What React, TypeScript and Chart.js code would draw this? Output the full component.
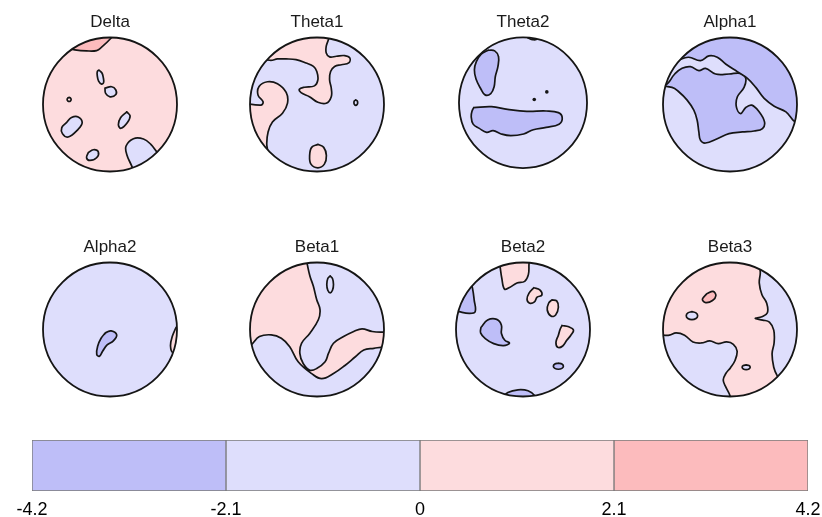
import React, { useEffect, useRef } from 'react';
import { Chart, registerables } from 'chart.js';

Chart.register(...registerables);

// colour bins: 0 = [-4.2,-2.1], 1 = [-2.1,0], 2 = [0,2.1], 3 = [2.1,4.2]
const BIN_COLORS = ['#bebef8', '#dedefc', '#fddcde', '#fcbbbd'];
const CB_EDGES = [-4.2, -2.1, 0, 2.1, 4.2];
const CB_LABELS = ['-4.2', '-2.1', '0', '2.1', '4.2'];

const HEAD_NAMES = ['Delta', 'Theta1', 'Theta2', 'Alpha1', 'Alpha2', 'Beta1', 'Beta2', 'Beta3'];
const HEAD_BASE_BIN = [2, 1, 1, 1, 1, 1, 1, 2];

type Region = [number, number[][]];

// contour regions in head coordinates (unit circle, y up)
const DELTA_REGIONS: Region[] = [
  [3, [[-0.7, 0.85], [-0.525, 0.815], [-0.35, 0.8], [-0.2, 0.805], [-0.125, 0.855], [0.01, 0.985], [0.1, 1.1], [-0.4, 1.15]]],
  [1, [[-0.165, 0.515], [-0.12, 0.47], [-0.1, 0.4], [-0.095, 0.33], [-0.125, 0.305], [-0.17, 0.35], [-0.19, 0.43], [-0.19, 0.49]]],
  [1, [[-0.075, 0.245], [0.025, 0.265], [0.085, 0.22], [0.088, 0.15], [0, 0.115], [-0.065, 0.165]]],
  [2, [[-0.61, 0.105], [-0.589, 0.096], [-0.58, 0.075], [-0.589, 0.054], [-0.61, 0.045], [-0.631, 0.054], [-0.64, 0.075], [-0.631, 0.096]]],
  [1, [[0.25, -0.11], [0.3, -0.17], [0.26, -0.27], [0.165, -0.355], [0.125, -0.3], [0.16, -0.195]]],
  [1, [[-0.65, -0.27], [-0.575, -0.195], [-0.475, -0.185], [-0.415, -0.27], [-0.475, -0.37], [-0.625, -0.485], [-0.71, -0.435], [-0.72, -0.345]]],
  [1, [[-0.325, -0.72], [-0.25, -0.675], [-0.175, -0.705], [-0.2, -0.795], [-0.3, -0.835], [-0.35, -0.795]]],
  [1, [[0.4, -1.1], [0.325, -0.92], [0.25, -0.745], [0.24, -0.62], [0.35, -0.51], [0.5, -0.515], [0.61, -0.595], [0.71, -0.72], [0.85, -0.85]]],
];

const THETA1_REGIONS: Region[] = [
  [2, [[0.2, 1.15], [0.173, 0.98], [0.138, 0.87], [0.138, 0.77], [0.188, 0.71], [0.289, 0.72], [0.414, 0.73], [0.489, 0.695], [0.474, 0.62], [0.364, 0.594], [0.263, 0.568], [0.203, 0.493], [0.188, 0.368], [0.213, 0.243], [0.213, 0.117], [0.138, 0.018], [0.013, 0.033], [-0.113, 0.117], [-0.238, 0.177], [-0.263, 0.228], [-0.188, 0.258], [-0.038, 0.278], [0.013, 0.368], [-0.003, 0.493], [-0.053, 0.568], [-0.163, 0.62], [-0.313, 0.67], [-0.463, 0.68], [-0.59, 0.68], [-0.704, 0.66], [-1.0, 0.75], [-0.6, 1.2]]],
  [2, [[-1.15, 0.03], [-0.84, -0.01], [-0.805, 0.04], [-0.88, 0.14], [-0.865, 0.27], [-0.74, 0.34], [-0.59, 0.31], [-0.46, 0.18], [-0.44, 0.02], [-0.515, -0.13], [-0.665, -0.26], [-0.73, -0.41], [-0.75, -0.585], [-0.74, -0.72], [-0.8, -0.85], [-1.2, -0.5]]],
  [1, [[0.579, 0.067], [0.599, 0.055], [0.607, 0.027], [0.599, -0.001], [0.579, -0.013], [0.559, -0.001], [0.551, 0.027], [0.559, 0.055]]],
  [2, [[0.013, -0.595], [0.1, -0.64], [0.14, -0.76], [0.11, -0.89], [0.013, -0.945], [-0.09, -0.89], [-0.11, -0.76], [-0.08, -0.64]]],
];

const THETA2_REGIONS: Region[] = [
  [0, [[-0.543, 0.804], [-0.442, 0.794], [-0.382, 0.704], [-0.392, 0.553], [-0.432, 0.402], [-0.452, 0.241], [-0.503, 0.141], [-0.593, 0.121], [-0.658, 0.211], [-0.734, 0.362], [-0.759, 0.503], [-0.729, 0.628], [-0.653, 0.744]]],
  [0, [[-0.769, -0.075], [-0.492, -0.06], [-0.241, -0.1], [0.06, -0.131], [0.362, -0.126], [0.553, -0.151], [0.613, -0.231], [0.563, -0.327], [0.362, -0.377], [0.161, -0.412], [0.01, -0.477], [-0.191, -0.503], [-0.342, -0.477], [-0.467, -0.427], [-0.568, -0.452], [-0.683, -0.392], [-0.779, -0.327], [-0.809, -0.211], [-0.794, -0.121]]],
  [0, [[0.08, 0.99], [0.15, 0.965], [0.22, 0.975], [0.25, 1.1], [0.05, 1.1]]],
];
const THETA2_DOTS = [[0.176, 0.05], [0.372, 0.166]];

const ALPHA1_REGIONS: Region[] = [
  [0, [[-0.84, 0.615], [-0.74, 0.675], [-0.615, 0.705], [-0.44, 0.655], [-0.315, 0.725], [-0.19, 0.705], [-0.065, 0.605], [0.11, 0.49], [0.26, 0.39], [0.385, 0.255], [0.51, 0.09], [0.66, -0.025], [0.835, -0.11], [0.985, -0.245], [1.2, 0.2], [0.8, 1.1], [-0.6, 1.1], [-1.0, 0.8]]],
  [0, [[-1.2, 0.3], [-0.965, 0.29], [-0.825, 0.455], [-0.715, 0.54], [-0.59, 0.565], [-0.465, 0.505], [-0.365, 0.54], [-0.215, 0.455], [-0.015, 0.455], [0.16, 0.465], [0.235, 0.39], [0.21, 0.255], [0.11, 0.115], [0.095, -0.035], [0.16, -0.135], [0.235, -0.045], [0.325, -0.01], [0.435, -0.11], [0.515, -0.26], [0.485, -0.36], [0.36, -0.395], [0.185, -0.41], [-0.015, -0.435], [-0.19, -0.51], [-0.365, -0.575], [-0.44, -0.535], [-0.465, -0.41], [-0.49, -0.235], [-0.54, -0.085], [-0.64, 0.065], [-0.765, 0.19], [-0.865, 0.255]]],
];

const ALPHA2_REGIONS: Region[] = [
  [0, [[-0.068, -0.05], [0.018, -0.02], [0.1, -0.08], [0.05, -0.17], [-0.043, -0.23], [-0.108, -0.32], [-0.158, -0.4], [-0.198, -0.37], [-0.183, -0.245], [-0.133, -0.13]]],
  [2, [[0.985, 0.03], [0.933, -0.095], [0.903, -0.245], [0.943, -0.345], [1.2, -0.3], [1.2, 0.0]]],
];

const BETA1_REGIONS: Region[] = [
  [2, [[-0.166, 1.075], [-0.146, 0.975], [-0.106, 0.799], [-0.055, 0.648], [-0.005, 0.447], [0.045, 0.296], [0.02, 0.146], [-0.106, -0.055], [-0.231, -0.206], [-0.256, -0.357], [-0.206, -0.508], [-0.106, -0.608], [-0.005, -0.583], [0.121, -0.482], [0.171, -0.357], [0.246, -0.206], [0.397, -0.106], [0.548, -0.03], [0.673, 0.01], [0.824, -0.03], [1.01, -0.04], [1.1, -0.04], [1.15, -0.15], [1.1, -0.26], [1.025, -0.256], [0.849, -0.281], [0.698, -0.307], [0.573, -0.407], [0.422, -0.533], [0.246, -0.658], [0.07, -0.734], [-0.08, -0.658], [-0.281, -0.482], [-0.407, -0.256], [-0.533, -0.131], [-0.683, -0.08], [-0.859, -0.106], [-0.985, -0.231], [-1.085, -0.281], [-1.2, 0.5], [-0.6, 1.15]]],
  [1, [[0.196, 0.799], [0.231, 0.761], [0.246, 0.673], [0.231, 0.585], [0.196, 0.547], [0.161, 0.585], [0.146, 0.673], [0.161, 0.761]]],
  [1, [[-0.658, 0.226], [-0.62, 0.217], [-0.603, 0.196], [-0.62, 0.175], [-0.658, 0.166], [-0.696, 0.175], [-0.713, 0.196], [-0.696, 0.217]]],
  [2, [[-0.392, 0.01], [-0.371, 0.001], [-0.362, -0.02], [-0.371, -0.041], [-0.392, -0.05], [-0.413, -0.041], [-0.422, -0.02], [-0.413, 0.001]]],
];

const BETA2_REGIONS: Region[] = [
  [2, [[-0.362, 1.045], [-0.342, 0.935], [-0.317, 0.769], [-0.276, 0.603], [-0.201, 0.628], [-0.09, 0.693], [0.025, 0.719], [0.08, 0.819], [0.09, 0.985], [0.1, 1.07]]],
  [0, [[-0.779, 0.693], [-0.754, 0.618], [-0.729, 0.442], [-0.714, 0.266], [-0.804, 0.241], [-0.955, 0.266], [-1.055, 0.291], [-1.1, 0.7]]],
  [0, [[-0.628, 0.03], [-0.528, 0.141], [-0.392, 0.151], [-0.322, 0.065], [-0.322, -0.06], [-0.271, -0.161], [-0.201, -0.201], [-0.291, -0.241], [-0.437, -0.211], [-0.563, -0.136], [-0.633, -0.05]]],
  [2, [[0.161, 0.623], [0.251, 0.593], [0.281, 0.513], [0.211, 0.482], [0.171, 0.412], [0.1, 0.392], [0.06, 0.452], [0.09, 0.543]]],
  [2, [[0.432, 0.442], [0.503, 0.427], [0.528, 0.332], [0.487, 0.216], [0.417, 0.201], [0.362, 0.291], [0.382, 0.392]]],
  [2, [[0.583, 0.06], [0.683, 0.04], [0.754, -0.01], [0.714, -0.085], [0.653, -0.161], [0.593, -0.246], [0.518, -0.266], [0.492, -0.191], [0.528, -0.085], [0.553, 0]]],
  [0, [[0.528, -0.503], [0.581, -0.516], [0.603, -0.548], [0.581, -0.58], [0.528, -0.593], [0.475, -0.58], [0.453, -0.548], [0.475, -0.516]]],
  [0, [[-0.302, -1.015], [-0.226, -0.94], [-0.075, -0.9], [0.075, -0.915], [0.176, -0.99], [0.2, -1.1]]],
];

const BETA3_REGIONS: Region[] = [
  [1, [[0.442, 0.945], [0.452, 0.844], [0.437, 0.693], [0.477, 0.518], [0.548, 0.392], [0.558, 0.251], [0.477, 0.191], [0.377, 0.166], [0.487, 0.141], [0.588, 0.111], [0.653, -0.01], [0.658, -0.201], [0.628, -0.362], [0.653, -0.563], [0.704, -0.688], [0.779, -0.789], [1.2, -0.5], [1.2, 0.5], [0.6, 1.1]]],
  [1, [[-1.005, -0.085], [-0.905, -0.085], [-0.804, -0.05], [-0.678, -0.085], [-0.553, -0.186], [-0.427, -0.201], [-0.302, -0.171], [-0.176, -0.211], [-0.05, -0.186], [0.05, -0.221], [0.106, -0.322], [0.075, -0.462], [0.005, -0.573], [-0.06, -0.653], [-0.101, -0.754], [-0.06, -0.864], [0, -0.99], [0, -1.09], [-1.2, -1.0], [-1.2, -0.1]]],
  [3, [[-0.347, 0.533], [-0.251, 0.568], [-0.211, 0.503], [-0.261, 0.432], [-0.362, 0.402], [-0.412, 0.452]]],
  [1, [[-0.568, 0.266], [-0.508, 0.248], [-0.483, 0.206], [-0.508, 0.164], [-0.568, 0.146], [-0.628, 0.164], [-0.653, 0.206], [-0.628, 0.248]]],
  [1, [[0.241, -0.528], [0.283, -0.538], [0.301, -0.563], [0.283, -0.588], [0.241, -0.598], [0.199, -0.588], [0.181, -0.563], [0.199, -0.538]]],
];

const HEAD_REGIONS = [DELTA_REGIONS, THETA1_REGIONS, THETA2_REGIONS, ALPHA1_REGIONS, ALPHA2_REGIONS, BETA1_REGIONS, BETA2_REGIONS, BETA3_REGIONS];
const HEAD_DOTS = [[], [], THETA2_DOTS, [], [], [], [], []];

// layout
const COL_X = [110, 317, 523, 730];
const ROW_Y = [104, 329];
const R_PX = 67;
const HEAD_W = 180;
const HEAD_H = 190;
const TITLE_BLOCK = 25;
const TOP_GAP = 4.5;
const X_HALF = HEAD_W / 2 / R_PX;
const Y_MAX = 1 + TOP_GAP / R_PX;
const Y_MIN = Y_MAX - (HEAD_H - TITLE_BLOCK) / R_PX;

const FONT = '"Liberation Sans", Arial, Helvetica, sans-serif';
const LINE = '#151515';

const headDisc = {
  id: 'headDisc',
  beforeDatasetsDraw(chart: any, _a: any, opts: any) {
    const { ctx, scales } = chart;
    const cx = scales.x.getPixelForValue(0);
    const cy = scales.y.getPixelForValue(0);
    const rx = scales.x.getPixelForValue(1) - cx;
    const ry = cy - scales.y.getPixelForValue(1);
    ctx.save();
    ctx.beginPath();
    ctx.ellipse(cx, cy, rx, ry, 0, 0, Math.PI * 2);
    ctx.fillStyle = opts.fill;
    ctx.fill();
    ctx.clip();
  },
  afterDatasetsDraw(chart: any) {
    const { ctx, scales } = chart;
    ctx.restore();
    const cx = scales.x.getPixelForValue(0);
    const cy = scales.y.getPixelForValue(0);
    const rx = scales.x.getPixelForValue(1) - cx;
    const ry = cy - scales.y.getPixelForValue(1);
    ctx.save();
    ctx.beginPath();
    ctx.ellipse(cx, cy, rx, ry, 0, 0, Math.PI * 2);
    ctx.strokeStyle = LINE;
    ctx.lineWidth = 1.8;
    ctx.stroke();
    ctx.restore();
  },
};

function Head({ idx }: { idx: number }) {
  const ref = useRef<HTMLCanvasElement>(null);
  useEffect(() => {
    const datasets: any[] = HEAD_REGIONS[idx].map(([bin, pts]) => ({
      data: [...pts, pts[0]].map(([x, y]) => ({ x, y })),
      fill: 'shape',
      backgroundColor: BIN_COLORS[bin],
      borderColor: LINE,
      borderWidth: 1.7,
      borderJoinStyle: 'round',
      borderCapStyle: 'round',
      pointRadius: 0,
      tension: 0.4,
      clip: false,
    }));
    const dots = HEAD_DOTS[idx];
    if (dots.length) {
      datasets.push({
        data: dots.map(([x, y]) => ({ x, y })),
        showLine: false,
        fill: false,
        pointRadius: 1.8,
        pointBorderWidth: 0,
        pointBackgroundColor: LINE,
        clip: false,
      });
    }
    const chart = new Chart(ref.current as HTMLCanvasElement, {
      type: 'line',
      data: { datasets },
      options: {
        animation: false,
        responsive: false,
        events: [],
        layout: { padding: 0 },
        elements: { line: { capBezierPoints: false } },
        plugins: {
          legend: { display: false },
          tooltip: { enabled: false },
          title: {
            display: true,
            text: HEAD_NAMES[idx],
            color: '#1a1a1a',
            font: { family: FONT, size: 17, weight: 'normal', lineHeight: 1 },
            padding: { top: 6, bottom: 2 },
          },
          headDisc: { fill: BIN_COLORS[HEAD_BASE_BIN[idx]] },
        } as any,
        scales: {
          x: { type: 'linear', min: -X_HALF, max: X_HALF, display: false },
          y: { type: 'linear', min: Y_MIN, max: Y_MAX, display: false },
        },
      },
      plugins: [headDisc as any],
    });
    return () => chart.destroy();
  }, [idx]);
  const cx = COL_X[idx % 4];
  const cy = ROW_Y[Math.floor(idx / 4)];
  return (
    <canvas
      ref={ref}
      width={HEAD_W}
      height={HEAD_H}
      style={{
        position: 'absolute',
        left: cx - HEAD_W / 2,
        top: cy - (TITLE_BLOCK + TOP_GAP + R_PX),
        width: HEAD_W,
        height: HEAD_H,
      }}
    />
  );
}

function ColorBar() {
  const ref = useRef<HTMLCanvasElement>(null);
  useEffect(() => {
    const datasets = BIN_COLORS.map((c, i) => ({
      data: [[CB_EDGES[i], CB_EDGES[i + 1]]],
      backgroundColor: c,
      borderColor: '#7a7a7a',
      borderWidth: 1,
      borderSkipped: false,
      grouped: false,
      barPercentage: 1,
      categoryPercentage: 1,
    }));
    const chart = new Chart(ref.current as HTMLCanvasElement, {
      type: 'bar',
      data: { labels: [''], datasets: datasets as any },
      options: {
        animation: false,
        responsive: false,
        events: [],
        indexAxis: 'y',
        layout: { padding: { left: 32, right: 14, top: 10, bottom: 0 } },
        plugins: { legend: { display: false }, tooltip: { enabled: false } },
        scales: {
          x: {
            type: 'linear',
            min: CB_EDGES[0],
            max: CB_EDGES[CB_EDGES.length - 1],
            grid: { display: false, drawTicks: false },
            border: { display: false },
            afterBuildTicks: (s: any) => {
              s.ticks = CB_EDGES.map((v) => ({ value: v }));
            },
            afterFit: (s: any) => {
              s.height = 39;
              s.paddingLeft = 0;
              s.paddingRight = 0;
            },
            ticks: {
              autoSkip: false,
              maxRotation: 0,
              padding: 8,
              color: '#000',
              font: { family: FONT, size: 18 },
              callback: (_v: any, i: number) => CB_LABELS[i],
            },
          },
          y: { display: false },
        },
      } as any,
    });
    return () => chart.destroy();
  }, []);
  return (
    <canvas
      ref={ref}
      width={822}
      height={100}
      style={{ position: 'absolute', left: 0, top: 430, width: 822, height: 100 }}
    />
  );
}

export default function App() {
  return (
    <div
      style={{
        position: 'absolute',
        left: 0,
        top: 0,
        width: 822,
        height: 517,
        overflow: 'hidden',
        background: '#ffffff',
      }}
    >
      {HEAD_NAMES.map((_, i) => (
        <Head key={i} idx={i} />
      ))}
      <ColorBar />
    </div>
  );
}
